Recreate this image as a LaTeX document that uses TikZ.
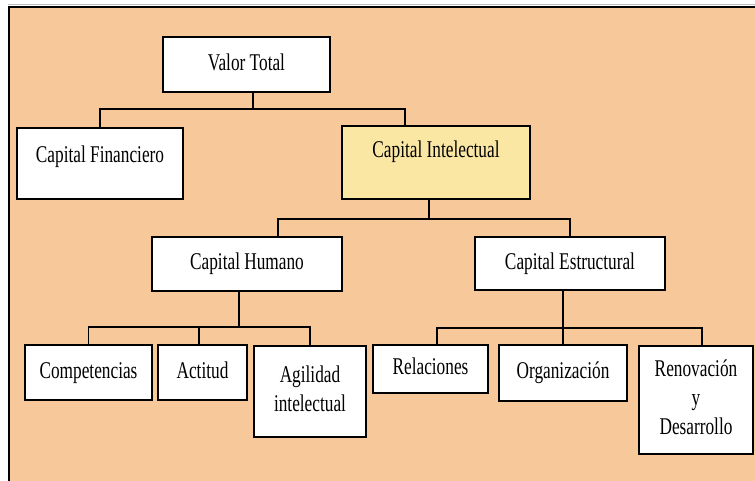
\documentclass[tikz,border=0pt]{standalone}
\usepackage{fontspec}
\setmainfont{Liberation Serif}
\usepackage{graphicx}
\definecolor{peach}{RGB}{247,200,154}
\definecolor{cream}{RGB}{251,231,164}
% narrow, tall lettering for the boxes
\newcommand{\boxtext}[1]{\scalebox{0.72}[1]{\begin{tabular}{@{}c@{}}#1\end{tabular}}}

\begin{document}
\begin{tikzpicture}[x=1pt,y=-1pt,
  card/.style={draw=black, line width=1.8pt, fill=white, inner sep=0pt,
    font=\fontsize{24}{29}\selectfont},
  lift/.style={yshift=#1, font=\fontsize{24}{29}\selectfont},
  link/.style={draw=black, line width=1.8pt}]
\useasboundingbox (0,0) rectangle (755,481);
\fill[white] (0,0) rectangle (755,481);
\fill[peach] (8,7) rectangle (755,481);
\draw[black!25, line width=1pt] (8,4.5) -- (755,4.5);
\draw[black, line width=1.8pt] (8.6,481) -- (8.6,7) -- (755,7);

% level 0 and 1
\node[card, minimum width=167, minimum height=55] (vt) at (246.5,64.5) {\boxtext{Valor Total}};
\node[card, minimum width=166, minimum height=71,
  label={[lift=6.5]center:\boxtext{Capital Financiero}}] (cf) at (100,163.5) {};
\node[card, fill=cream, minimum width=188, minimum height=73,
  label={[lift=11]center:\boxtext{Capital Intelectual}}] (ci) at (436,162.5) {};

% level 2
\node[card, minimum width=190, minimum height=54] (ch) at (247,264) {\boxtext{Capital Humano}};
\node[card, minimum width=190, minimum height=53] (ce) at (570,263.5) {\boxtext{Capital Estructural}};

% level 3
\node[card, minimum width=127, minimum height=55] (comp) at (88.5,372.5) {\boxtext{Competencias}};
\node[card, minimum width=89, minimum height=55] (act) at (202.5,372.5) {\boxtext{Actitud}};
\node[card, minimum width=112, minimum height=91] (agil) at (310,391.5) {\boxtext{Agilidad\\intelectual}};
\node[card, minimum width=115, minimum height=48] (rel) at (430.5,369) {\boxtext{Relaciones}};
\node[card, minimum width=128, minimum height=56] (org) at (563,373) {\boxtext{Organización}};
\node[card, minimum width=114, minimum height=108] (ren) at (696,400) {\boxtext{Renovación\\y\\Desarrollo}};

% connectors
\draw[link] ([xshift=6.5]vt.south) -- ++(0,16) coordinate (j1);
\draw[link] (cf.north) |- (j1);
\draw[link] ([xshift=-31]ci.north) |- (j1);

\draw[link] ([xshift=-7]ci.south) -- ++(0,19) coordinate (j2);
\draw[link] ([xshift=31]ch.north) |- (j2);
\draw[link] (ce.north) |- (j2);

\draw[link] ([xshift=-8]ch.south) -- ++(0,35) coordinate (j3);
\draw[link] (comp.north) |- (j3);
\draw[link] ([xshift=-3.5]act.north) |- (j3);
\draw[link] (agil.north) |- (j3);

\draw[link] ([xshift=-7]ce.south) -- ++(0,37) coordinate (j4);
\draw[link] ([xshift=6.5]rel.north) |- (j4);
\draw[link] (org.north) |- (j4);
\draw[link] ([xshift=6]ren.north) |- (j4);
\end{tikzpicture}
\end{document}
